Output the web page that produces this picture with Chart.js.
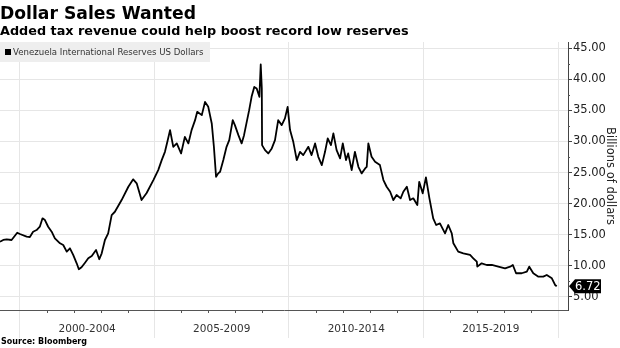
<!DOCTYPE html>
<html>
<head>
<meta charset="utf-8">
<script src="https://cdn.jsdelivr.net/npm/chart.js@4"></script>
<style>
  html, body { margin:0; padding:0; background:#fff; }
  #wrap { position:relative; width:620px; height:348px; overflow:hidden; }
  canvas { position:absolute; left:0; top:0; }
  .txt { position:absolute; white-space:nowrap; color:#000; }
  #title { left:0; top:5px; font:bold 17.2px 'DejaVu Sans'; line-height:17px; }
  #subtitle { left:0; top:24.5px; font:bold 12.8px 'DejaVu Sans'; line-height:12.8px; }
  #source { left:1px; top:338px; font:bold 8px 'DejaVu Sans'; line-height:8px; }
  #legend { position:absolute; left:0; top:42px; width:210px; height:20px; background:#eeeeee; }
  #legend .sq { position:absolute; left:5px; top:7px; width:6px; height:6px; background:#000; }
  #legend .lt { position:absolute; left:13px; top:0; font:8.6px 'DejaVu Sans'; line-height:20px; color:#333; white-space:nowrap; }
</style>
</head>
<body>
<div id="wrap">
  <canvas id="c" width="620" height="348"></canvas>
  <div id="title" class="txt">Dollar Sales Wanted</div>
  <div id="subtitle" class="txt">Added tax revenue could help boost record low reserves</div>
  <div id="legend"><div class="sq"></div><div class="lt" id="legendText"></div></div>
  <div id="source" class="txt">Source: Bloomberg</div>
</div>
<script>
// ---- Data ----
const seriesName = 'Venezuela International Reserves US Dollars';
const yAxisTitle = 'Billions of dollars';

// decimal year of each sampled point
const years = [
  1999.26,1999.38,1999.51,1999.69,1999.90,2000.00,2000.25,2000.37,2000.49,2000.62,
  2000.74,2000.84,2000.93,2001.05,2001.18,2001.30,2001.49,2001.61,2001.74,2001.86,
  2001.98,2002.11,2002.19,2002.29,2002.42,2002.54,2002.67,2002.83,2002.95,2003.04,
  2003.16,2003.28,2003.41,2003.53,2003.78,2004.03,2004.21,2004.34,2004.52,2004.71,
  2004.96,2005.14,2005.27,2005.39,2005.48,2005.58,2005.70,2005.83,2005.99,2006.13,
  2006.26,2006.38,2006.51,2006.59,2006.76,2006.88,2007.00,2007.13,2007.21,2007.29,
  2007.37,2007.44,2007.56,2007.68,2007.78,2007.91,2007.99,2008.12,2008.24,2008.33,
  2008.43,2008.52,2008.61,2008.71,2008.80,2008.90,2008.95,2008.99,2009.00,2009.11,
  2009.23,2009.36,2009.48,2009.60,2009.73,2009.85,2009.95,2010.04,2010.16,2010.29,
  2010.41,2010.53,2010.72,2010.84,2010.97,2011.09,2011.22,2011.34,2011.44,2011.56,
  2011.65,2011.77,2011.90,2012.00,2012.12,2012.20,2012.33,2012.45,2012.58,2012.70,
  2012.83,2012.89,2012.95,2013.07,2013.20,2013.38,2013.51,2013.63,2013.76,2013.88,
  2014.00,2014.15,2014.25,2014.38,2014.50,2014.62,2014.77,2014.84,2014.97,2015.09,
  2015.22,2015.36,2015.47,2015.61,2015.80,2015.92,2016.05,2016.11,2016.29,2016.48,
  2016.73,2016.85,2016.98,2017.00,2017.16,2017.35,2017.54,2017.78,2018.03,2018.22,
  2018.32,2018.44,2018.65,2018.84,2018.93,2019.08,2019.27,2019.45,2019.58,2019.77,
  2019.89,2019.95
];

// reserves, billions of US dollars
const reserves = [
  13.88,14.16,14.27,14.16,15.33,15.12,14.69,14.64,15.49,15.76,
  16.29,17.64,17.37,16.29,15.49,14.43,13.63,13.35,12.28,12.82,
  11.75,10.41,9.45,9.77,10.51,11.22,11.59,12.55,11.06,12.02,
  14.16,15.23,18.17,18.70,20.58,22.72,23.91,23.27,20.58,21.71,
  23.80,25.40,27.01,28.34,29.95,31.83,29.14,29.69,28.08,30.75,
  29.69,31.83,33.43,34.77,34.24,36.37,35.57,32.90,29.14,24.33,
  24.87,25.13,27.01,29.14,30.22,33.43,32.63,31.02,29.69,31.02,
  33.16,35.04,37.18,38.78,38.53,37.18,42.38,38.53,29.42,28.61,
  28.08,28.89,30.22,33.43,32.63,33.71,35.57,31.83,29.95,27.01,
  28.34,27.81,29.14,27.81,29.69,27.54,26.20,28.34,30.49,29.42,
  31.30,28.61,27.28,29.69,27.01,28.08,25.40,28.34,25.93,24.87,
  25.67,25.93,29.69,27.54,26.73,26.20,23.80,22.72,21.92,20.58,
  21.39,20.86,21.92,22.72,20.58,20.86,19.78,23.52,21.66,24.23,
  20.86,17.64,16.57,16.84,15.23,16.57,15.23,13.63,12.28,12.02,
  11.75,11.22,10.67,9.87,10.41,10.14,10.14,9.87,9.61,9.87,
  10.14,8.81,8.81,9.06,9.87,8.81,8.26,8.26,8.53,8.00,
  6.93,6.72
];

// x-axis period bands
const periodLabels = ['2000-2004','2005-2009','2010-2014','2015-2019'];
const periodStarts = [2000, 2005, 2010, 2015, 2020];
// y-axis ticks
const yTicks = [5,10,15,20,25,30,35,40,45];

// ---- Chart ----
document.getElementById('legendText').textContent = seriesName;

const xMin = 1999.26, xMax = 2020.37;
const yMin = 2.9, yMax = 46.0;

const periodCenters = periodLabels.map((_, i) => (periodStarts[i] + periodStarts[i+1]) / 2);
const xTickValues = periodStarts.concat(periodCenters).sort((a,b)=>a-b);

const GRID = '#e6e6e6';
const AXIS = '#444';

const extras = {
  id: 'extras',
  afterDraw(chart) {
    const {ctx, chartArea} = chart;
    const xs = chart.scales.x, ys = chart.scales.y;
    ctx.save();
    ctx.strokeStyle = '#555';
    ctx.lineWidth = 1;
    ctx.beginPath();
    // yearly minor ticks under x axis
    for (let yr = Math.ceil(xs.min); yr <= xs.max; yr++) {
      if (yr % 5 === 0) continue;
      const px = Math.round(xs.getPixelForValue(yr)) + 0.5;
      ctx.moveTo(px, chartArea.bottom);
      ctx.lineTo(px, chartArea.bottom + 3);
    }
    // minor ticks on y axis
    for (let v = 7.5; v < ys.max; v += 5) {
      const py = Math.round(ys.getPixelForValue(v)) + 0.5;
      ctx.moveTo(chartArea.right, py);
      ctx.lineTo(chartArea.right + 2, py);
    }
    ctx.stroke();
    // last value tag
    const last = reserves[reserves.length - 1];
    const py = ys.getPixelForValue(last);
    const x0 = chartArea.right + 1;
    ctx.fillStyle = '#000';
    ctx.beginPath();
    ctx.moveTo(x0, py);
    ctx.lineTo(x0 + 6, py - 7);
    ctx.lineTo(x0 + 32, py - 7);
    ctx.lineTo(x0 + 32, py + 7);
    ctx.lineTo(x0 + 6, py + 7);
    ctx.closePath();
    ctx.fill();
    ctx.fillStyle = '#fff';
    ctx.font = '11.5px "DejaVu Sans"';
    ctx.textBaseline = 'middle';
    ctx.textAlign = 'left';
    ctx.fillText(last.toFixed(2), x0 + 6, py + 0.5);
    ctx.restore();
  }
};

new Chart(document.getElementById('c'), {
  type: 'line',
  data: {
    datasets: [{
      label: seriesName,
      data: years.map((yr, i) => ({x: yr, y: reserves[i]})),
      borderColor: '#000',
      borderWidth: 1.8,
      pointRadius: 0,
      tension: 0,
      borderJoinStyle: 'round',
      fill: false
    }]
  },
  options: {
    responsive: false,
    animation: false,
    devicePixelRatio: 1,
    layout: { padding: { top: 42, left: 0, right: 0, bottom: 10 } },
    plugins: { legend: { display: false }, tooltip: { enabled: false } },
    scales: {
      x: {
        type: 'linear',
        min: xMin, max: xMax,
        afterBuildTicks: s => { s.ticks = xTickValues.map(v => ({value: v})); },
        afterFit: s => { s.height = 28; },
        grid: {
          color: c => (c.tick && periodStarts.includes(c.tick.value)) ? GRID : 'rgba(0,0,0,0)',
          tickColor: c => (c.tick && periodStarts.includes(c.tick.value)) ? GRID : 'rgba(0,0,0,0)',
          tickLength: 28,
          lineWidth: 1
        },
        border: { display: true, color: '#555', width: 1 },
        ticks: {
          autoSkip: false, maxRotation: 0,
          padding: -15,
          color: '#333',
          font: { family: 'DejaVu Sans', size: 10.5 },
          callback: v => { const i = periodCenters.indexOf(v); return i >= 0 ? periodLabels[i] : ''; }
        }
      },
      y: {
        position: 'right',
        min: yMin, max: yMax,
        afterBuildTicks: s => { s.ticks = yTicks.map(v => ({value: v})); },
        afterFit: s => { s.width = 52; },
        grid: { color: GRID, tickColor: AXIS, tickLength: 4, lineWidth: 1 },
        border: { display: true, color: AXIS, width: 1 },
        ticks: {
          padding: 1,
          color: '#222',
          font: { family: 'DejaVu Sans', size: 11.5 },
          callback: v => Number(v).toFixed(2)
        },
        title: {
          display: true, text: yAxisTitle, color: '#222',
          font: { family: 'DejaVu Sans', size: 11.5 },
          padding: { top: 3, bottom: 0 }
        }
      }
    }
  },
  plugins: [extras]
});
</script>
</body>
</html>
